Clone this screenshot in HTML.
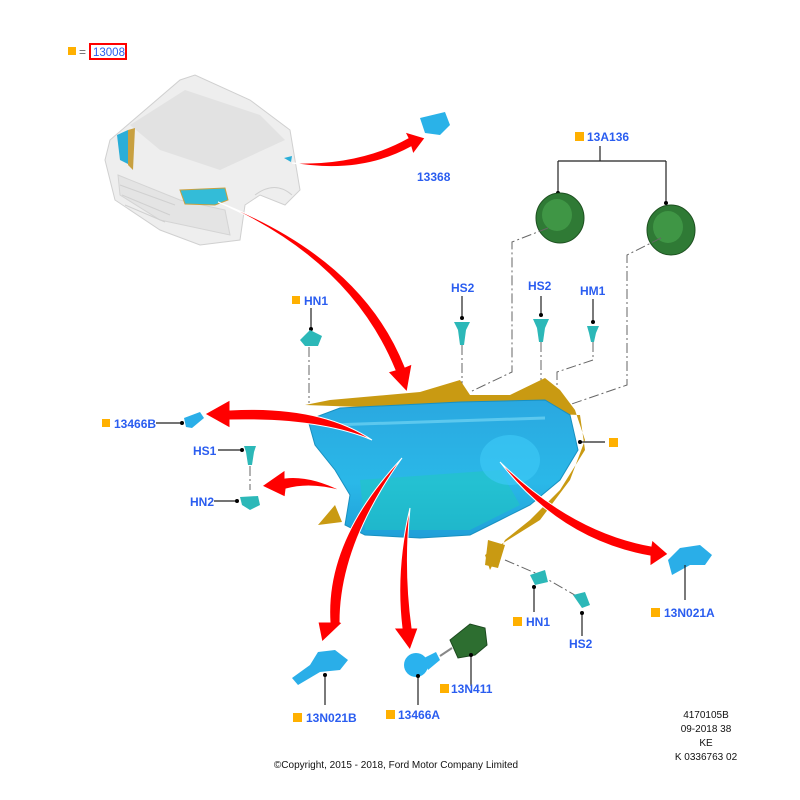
<!DOCTYPE html>
<html><head><meta charset="utf-8"><style>
body{margin:0;background:#fff}
svg{display:block}
.l{font-family:"Liberation Sans",sans-serif;font-weight:bold;font-size:12px;fill:#2a5df0}
.s{fill:#ffb000}
.k{font-family:"Liberation Sans",sans-serif;font-size:10px;fill:#111}
.dd{stroke:#666;stroke-width:1;fill:none;stroke-dasharray:10 3 2 3}
.ln{stroke:#222;stroke-width:1.2;fill:none}
.a{fill:#f00;stroke:#fff;stroke-width:1}
</style></head><body>
<svg width="800" height="800" viewBox="0 0 800 800" xmlns="http://www.w3.org/2000/svg">
<defs>
<linearGradient id="lg" x1="0" y1="0" x2="0" y2="1">
<stop offset="0" stop-color="#2aa8e0"/><stop offset="0.6" stop-color="#2ab8e8"/><stop offset="1" stop-color="#1f9fd8"/>
</linearGradient>
</defs>
<!-- header -->
<rect x="68" y="47" width="8" height="8" class="s"/>
<text x="79" y="56" class="k" style="font-size:12px;fill:#666">=</text>
<rect x="90" y="44" width="36" height="15" fill="none" stroke="#f00" stroke-width="2"/>
<text x="93" y="56" class="l" style="font-weight:normal;font-size:11.5px">13008</text>

<!-- car -->
<g>
<path d="M110,140 L180,80 L195,75 L250,100 L290,130 L300,190 L285,205 L260,195 L245,205 L240,240 L200,245 L160,230 L115,200 L105,160 Z" fill="#eeeeee" stroke="#d0d0d0"/>
<path d="M130,125 L185,90 L260,115 L285,140 L220,170 L160,150 Z" fill="#e2e2e2"/>
<path d="M118,175 L180,200 L225,210 L230,235 L160,220 L120,195 Z" fill="#e4e4e4" stroke="#d4d4d4"/>
<path d="M120,185 L175,205 M122,195 L170,215 M125,205 L165,222" stroke="#d0d0d0" fill="none"/>
<path d="M255,195 Q275,180 292,195" stroke="#d0d0d0" fill="none"/>
<path d="M117,135 L128,130 L130,165 L120,160 Z" fill="#2aaed8"/>
<path d="M128,130 L135,128 L133,170 L128,165 Z" fill="#c8a040"/>
<path d="M180,190 L225,188 L228,200 L215,205 L185,204 Z" fill="#33bcd8" stroke="#c8a040"/>
<path d="M284,158 L292,156 L291,162 Z" fill="#2aaed8"/>
</g>

<!-- 13368 -->
<path d="M420,118 L445,112 L450,125 L440,135 L425,133 Z" fill="#2ab2e8"/>
<text x="417" y="181" class="l">13368</text>

<!-- 13A136 -->
<rect x="575" y="132" width="9" height="9" class="s"/>
<text x="587" y="141" class="l">13A136</text>
<path d="M600,146 V161 M558,161 H666 M558,161 V193 M666,161 V203" class="ln"/>
<circle cx="558" cy="193" r="2" fill="#000"/><circle cx="666" cy="203" r="2" fill="#000"/>
<ellipse cx="560" cy="218" rx="24" ry="25" fill="#2f7a35" stroke="#1d5020"/>
<ellipse cx="557" cy="215" rx="15" ry="16" fill="#3f9645"/>
<ellipse cx="671" cy="230" rx="24" ry="25" fill="#2f7a35" stroke="#1d5020"/>
<ellipse cx="668" cy="227" rx="15" ry="16" fill="#3f9645"/>
<path d="M548,228 L512,242 V372 L470,392" class="dd"/>
<path d="M661,238 L627,255 V385 L560,408" class="dd"/>

<!-- HS2 HS2 HM1 -->
<text x="451" y="292" class="l">HS2</text>
<text x="528" y="290" class="l">HS2</text>
<text x="580" y="295" class="l">HM1</text>
<path d="M462,296 V318 M541,296 V315 M593,299 V322" class="ln"/>
<circle cx="462" cy="318" r="2" fill="#000"/><circle cx="541" cy="315" r="2" fill="#000"/><circle cx="593" cy="322" r="2" fill="#000"/>
<path d="M454,322 L470,322 L466,330 L464,345 L460,345 L458,330 Z" fill="#2cb8b8"/>
<path d="M533,319 L549,319 L545,328 L543,342 L539,342 L537,328 Z" fill="#2cb8b8"/>
<path d="M587,326 L599,326 L596,333 L594,342 L591,342 L589,333 Z" fill="#2cb8b8"/>
<path d="M462,345 V390 M541,342 V390 M593,342 V360 L557,372 V392" class="dd"/>

<!-- HN1 left -->
<rect x="292" y="296" width="8" height="8" class="s"/>
<text x="304" y="305" class="l">HN1</text>
<path d="M311,308 V329" class="ln"/><circle cx="311" cy="329" r="2" fill="#000"/>
<path d="M300,340 L310,330 L322,336 L318,346 L305,346 Z" fill="#2cb8b8"/>
<path d="M309,347 V403" class="dd"/>

<!-- headlamp -->
<path d="M305,405 L330,400 L420,392 L460,380 L470,395 L510,395 L545,378 L560,390 L575,410 L585,440 L570,480 L540,520 L500,545 L485,555 L490,570 L495,560 L505,540 L530,520 L560,490 L585,450 L580,415 Z" fill="#c99a12"/>
<path d="M335,505 L318,525 L342,522 Z" fill="#c99a12"/>
<path d="M488,540 L485,565 L498,568 L505,545 Z" fill="#c99a12"/>
<path d="M308,420 L340,408 L460,402 L545,400 L570,415 L578,450 L560,480 L530,505 L500,520 L470,535 L420,538 L365,535 L345,525 L350,495 L335,470 L315,445 Z" fill="url(#lg)" stroke="#1890c0"/>
<path d="M360,480 L500,470 L520,505 L470,530 L365,530 Z" fill="#1fc8c0" opacity="0.55"/>
<path d="M330,425 L545,418" stroke="#5cc8ee" stroke-width="3" fill="none"/>
<ellipse cx="510" cy="460" rx="30" ry="25" fill="#3cc8f5" opacity="0.7"/>
<path d="M580,442 H605" class="ln"/><circle cx="580" cy="442" r="2" fill="#000"/>
<rect x="609" y="438" width="9" height="9" class="s"/>

<!-- 13466B -->
<rect x="102" y="419" width="8" height="8" class="s"/>
<text x="114" y="428" class="l">13466B</text>
<path d="M156,423 H182" class="ln"/><circle cx="182" cy="423" r="2" fill="#000"/>
<path d="M184,418 L200,412 L204,418 L192,428 L186,427 Z" fill="#2aaee8"/>

<!-- HS1 HN2 -->
<text x="193" y="455" class="l">HS1</text>
<path d="M218,450 H242" class="ln"/><circle cx="242" cy="450" r="2" fill="#000"/>
<path d="M244,446 L256,446 L254,452 L252,465 L248,465 L246,452 Z" fill="#2cb8b8"/>
<path d="M250,466 V490" class="dd"/>
<text x="190" y="506" class="l">HN2</text>
<path d="M214,501 H237" class="ln"/><circle cx="237" cy="501" r="2" fill="#000"/>
<path d="M240,497 L258,496 L260,505 L250,510 L242,505 Z" fill="#2cb8b8"/>

<!-- bottom right HN1 HS2 -->
<path d="M505,560 L540,575 L580,598" class="dd"/>
<path d="M530,575 L545,570 L548,582 L535,585 Z" fill="#2cb8b8"/>
<path d="M573,595 L585,592 L590,605 L582,608 Z" fill="#2cb8b8"/>
<path d="M534,587 V612 M582,613 V636" class="ln"/>
<circle cx="534" cy="587" r="2" fill="#000"/><circle cx="582" cy="613" r="2" fill="#000"/>
<rect x="513" y="617" width="9" height="9" class="s"/>
<text x="526" y="626" class="l">HN1</text>
<text x="569" y="648" class="l">HS2</text>

<!-- 13N021A -->
<path d="M668,560 L680,548 L700,545 L712,555 L705,565 L690,565 L672,575 Z" fill="#2aaee8"/>
<path d="M685,565 V600" class="ln"/>
<rect x="651" y="608" width="9" height="9" class="s"/>
<text x="664" y="617" class="l">13N021A</text>

<!-- 13N021B -->
<path d="M292,678 L310,665 L318,652 L335,650 L348,660 L340,670 L320,672 L298,685 Z" fill="#2aaee8"/>
<path d="M325,675 V705" class="ln"/><circle cx="325" cy="675" r="2" fill="#000"/>
<rect x="293" y="713" width="9" height="9" class="s"/>
<text x="306" y="722" class="l">13N021B</text>

<!-- 13466A / 13N411 -->
<circle cx="416" cy="665" r="12" fill="#2ab2ee"/>
<path d="M424,658 L436,652 L440,660 L428,670 Z" fill="#2ab2ee"/>
<path d="M440,656 L452,648" stroke="#888" stroke-width="2"/>
<path d="M450,640 L470,624 L485,628 L487,645 L475,655 L458,658 Z" fill="#2d6e30" stroke="#1d4a20"/>
<path d="M418,676 V705 M471,655 V686" class="ln"/>
<circle cx="418" cy="676" r="2" fill="#000"/><circle cx="471" cy="655" r="2" fill="#000"/>
<rect x="386" y="710" width="9" height="9" class="s"/>
<text x="398" y="719" class="l">13466A</text>
<rect x="440" y="684" width="9" height="9" class="s"/>
<text x="451" y="693" class="l">13N411</text>

<!-- red arrows -->
<path class="a" d="M292,163 Q360,165 408,138 L405,132 L425,138 L413,154 L411,147 Q360,175 292,163 Z"/>
<path class="a" d="M218,202 Q350,260 395,370 L388,372 L407,392 L412,364 L405,367 Q362,258 218,202 Z"/>
<path class="a" d="M372,440 Q320,405 230,410 L230,400 L205,414 L230,428 L230,420 Q320,418 372,440 Z"/>
<path class="a" d="M342,491 Q310,475 285,478 L285,470 L262,486 L285,497 L286,489 Q310,482 342,491 Z"/>
<path class="a" d="M402,458 Q325,540 330,622 L318,622 L322,642 L342,623 L340,622 Q340,545 402,458 Z"/>
<path class="a" d="M410,508 Q395,570 402,628 L394,628 L410,650 L418,628 L412,628 Q404,570 410,508 Z"/>
<path class="a" d="M500,462 Q560,540 650,556 L650,566 L668,554 L652,540 L651,546 Q572,532 500,462 Z"/>

<!-- footer -->
<text x="396" y="768" class="k" text-anchor="middle">©Copyright, 2015 - 2018, Ford Motor Company Limited</text>
<text x="706" y="718" class="k" text-anchor="middle">4170105B</text>
<text x="706" y="732" class="k" text-anchor="middle">09-2018 38</text>
<text x="706" y="746" class="k" text-anchor="middle">KE</text>
<text x="706" y="760" class="k" text-anchor="middle">K 0336763 02</text>
</svg>
</body></html>
